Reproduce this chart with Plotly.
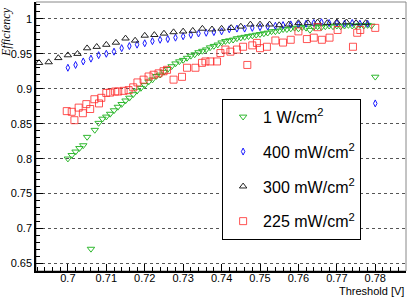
import plotly.graph_objects as go

# ---- data ----
green_x = [0.700, 0.701, 0.702, 0.703, 0.704, 0.705, 0.706, 0.707, 0.708, 0.709,
           0.710, 0.711, 0.712, 0.713, 0.714, 0.715, 0.716, 0.717, 0.718, 0.719,
           0.720, 0.721, 0.722, 0.723, 0.724, 0.725, 0.726, 0.727, 0.728, 0.729,
           0.730, 0.731, 0.732, 0.733, 0.734, 0.735, 0.736, 0.737, 0.738, 0.739,
           0.740, 0.741, 0.742, 0.743, 0.744, 0.745, 0.746, 0.747, 0.748, 0.749,
           0.750, 0.751, 0.752, 0.753, 0.754, 0.755, 0.756, 0.757, 0.758, 0.759,
           0.760, 0.761, 0.762, 0.763, 0.764, 0.765, 0.766, 0.767, 0.768, 0.769,
           0.770, 0.771, 0.772, 0.773, 0.774, 0.775, 0.776, 0.777, 0.778, 0.779,
           0.780]
green_y = [0.800, 0.805, 0.810, 0.815, 0.819, 0.831, 0.671, 0.841, 0.851, 0.857,
           0.860, 0.864, 0.869, 0.874, 0.878, 0.883, 0.887, 0.892, 0.897, 0.901,
           0.905, 0.910, 0.913, 0.918, 0.920, 0.924, 0.928, 0.932, 0.936, 0.939,
           0.941, 0.944, 0.947, 0.949, 0.952, 0.954, 0.956, 0.959, 0.961, 0.963,
           0.966, 0.968, 0.969, 0.970, 0.972, 0.973, 0.974, 0.975, 0.976, 0.977,
           0.978, 0.979, 0.980, 0.982, 0.982, 0.983, 0.985, 0.985, 0.986, 0.987,
           0.986, 0.988, 0.987, 0.984, 0.988, 0.989, 0.988, 0.989, 0.990, 0.989,
           0.990, 0.989, 0.990, 0.991, 0.990, 0.990, 0.991, 0.990, 0.991, 0.990,
           0.917]

blue_x = [0.700, 0.702, 0.704, 0.706, 0.708, 0.710, 0.712, 0.714, 0.716, 0.718,
          0.720, 0.722, 0.724, 0.726, 0.728, 0.730, 0.732, 0.734, 0.736, 0.738,
          0.740, 0.742, 0.744, 0.746, 0.748, 0.750, 0.752, 0.754, 0.756, 0.758,
          0.760, 0.762, 0.764, 0.766, 0.768, 0.770, 0.772, 0.774, 0.776, 0.778,
          0.780]
blue_y = [0.930, 0.934, 0.939, 0.943, 0.948, 0.950, 0.953, 0.958, 0.961, 0.963,
          0.965, 0.968, 0.970, 0.971, 0.973, 0.975, 0.977, 0.979, 0.980, 0.981,
          0.982, 0.985, 0.986, 0.986, 0.987, 0.988, 0.989, 0.990, 0.991, 0.992,
          0.992, 0.993, 0.994, 0.995, 0.994, 0.994, 0.993, 0.994, 0.993, 0.993,
          0.879]

black_x = [0.6925, 0.6950, 0.6975, 0.7000, 0.7025, 0.7050, 0.7075, 0.7100, 0.7125,
           0.7150, 0.7175, 0.7200, 0.7225, 0.7250, 0.7275, 0.7300, 0.7325, 0.7350,
           0.7375, 0.7400, 0.7425, 0.7450, 0.7475, 0.7500, 0.7525, 0.7550, 0.7575,
           0.7600, 0.7625, 0.7650, 0.7675, 0.7700, 0.7725, 0.7750, 0.7775]
black_y = [0.937, 0.938, 0.944, 0.948, 0.950, 0.958, 0.960, 0.963, 0.966,
           0.972, 0.969, 0.976, 0.977, 0.979, 0.981, 0.982, 0.983, 0.986,
           0.985, 0.986, 0.987, 0.989, 0.992, 0.992, 0.992, 0.991, 0.992,
           0.994, 0.994, 0.995, 0.994, 0.995, 0.995, 0.994, 0.994]

red_x = [0.6997, 0.7010, 0.7017, 0.7028, 0.7039, 0.7048, 0.7058, 0.7069, 0.7081,
         0.7087, 0.7100, 0.7110, 0.7123, 0.7131, 0.7145, 0.7158, 0.7170, 0.7181,
         0.7197, 0.7210, 0.7223, 0.7236, 0.7249, 0.7258, 0.7275, 0.7297, 0.7310,
         0.7332, 0.7349, 0.7358, 0.7371, 0.7388, 0.7397, 0.7410, 0.7423, 0.7440,
         0.7456, 0.7467, 0.7480, 0.7492, 0.7500, 0.7518, 0.7540, 0.7560, 0.7580,
         0.7600, 0.7622, 0.7640, 0.7650, 0.7661, 0.7681, 0.7702, 0.7742, 0.7753,
         0.7761, 0.7800]
red_y = [0.868, 0.867, 0.855, 0.873, 0.865, 0.878, 0.871, 0.885, 0.879,
         0.887, 0.894, 0.8945, 0.896, 0.896, 0.897, 0.898, 0.902, 0.909,
         0.913, 0.9175, 0.920, 0.922, 0.925, 0.927, 0.913, 0.917, 0.930,
         0.930, 0.937, 0.939, 0.939, 0.939, 0.951, 0.956, 0.953, 0.956,
         0.960, 0.934, 0.962, 0.9655, 0.958, 0.960, 0.969, 0.966, 0.970,
         0.982, 0.971, 0.973, 0.988, 0.970, 0.973, 0.984, 0.960, 0.980,
         0.984, 0.987]

labels = ["1 W/cm<sup>2</sup>", "400 mW/cm<sup>2</sup>",
          "300 mW/cm<sup>2</sup>", "225 mW/cm<sup>2</sup>"]

x_ticks = [0.70, 0.71, 0.72, 0.73, 0.74, 0.75, 0.76, 0.77, 0.78]
x_tick_text = ["0.7", "0.71", "0.72", "0.73", "0.74", "0.75", "0.76", "0.77", "0.78"]
y_ticks = [0.65, 0.70, 0.75, 0.80, 0.85, 0.90, 0.95, 1.00]
y_tick_text = ["0.65", "0.7", "0.75", "0.8", "0.85", "0.9", "0.95", "1"]

fig = go.Figure()
series = [
    (green_x, green_y, labels[0], "triangle-down-open", "#2eb82e", 6.5),
    (blue_x, blue_y, labels[1], "diamond-tall-open", "#1a1aff", 5),
    (black_x, black_y, labels[2], "triangle-up-open", "#222222", 6.5),
    (red_x, red_y, labels[3], "square-open", "rgba(255,40,40,0.8)", 7),
]
for i, (xs, ys, name, sym, col, sz) in enumerate(series):
    fig.add_trace(go.Scatter(
        x=xs, y=ys, mode="markers", name=name, legendgroup=f"g{i}",
        marker=dict(symbol=sym, color=col, size=sz, line=dict(width=1, color=col)),
    ))

axis_font = dict(family="Liberation Sans, Arial, sans-serif", size=11, color="black")

fig.update_xaxes(
    range=[0.6917, 0.788], tickvals=x_ticks, ticktext=x_tick_text,
    ticks="inside", ticklen=7, tickwidth=1, tickcolor="black",
    ticklabelstandoff=-4,
    minor=dict(dtick=0.002, tick0=0.7, ticks="inside", ticklen=4, tickcolor="black", showgrid=False),
    showline=True, linecolor="black", linewidth=1.5,
    showgrid=False, zeroline=False, tickfont=axis_font,
)
fig.update_yaxes(
    range=[0.6394, 1.024], tickvals=y_ticks, ticktext=y_tick_text,
    ticks="inside", ticklen=7, tickwidth=1, tickcolor="black",
    minor=dict(dtick=0.01, tick0=0.65, ticks="inside", ticklen=4, tickcolor="black", showgrid=False),
    showline=True, linecolor="black", linewidth=1.5,
    showgrid=True, gridcolor="#555555", griddash="dot", gridwidth=1,
    zeroline=False, tickfont=axis_font,
)

fig.add_shape(type="rect", xref="paper", yref="paper", x0=0, y0=0, x1=1, y1=1,
              line=dict(color="#888888", width=1), layer="below")

fig.add_annotation(text="<i>Efficiency</i>", xref="paper", yref="paper",
                   x=-0.081, y=0.989, xanchor="center", yanchor="top", textangle=-90,
                   showarrow=False,
                   font=dict(family="Liberation Serif, Times New Roman, serif", size=12, color="black"))
fig.add_annotation(text="Threshold [V]", xref="paper", yref="paper",
                   x=1.0, y=-0.0755, xanchor="right", yanchor="middle",
                   showarrow=False, font=axis_font)

fig.update_layout(
    width=407, height=297,
    margin=dict(l=36, r=1, t=2, b=26),
    paper_bgcolor="white", plot_bgcolor="white",
    showlegend=True,
    legend=dict(
        x=0.503, y=0.64, xanchor="left", yanchor="top",
        bgcolor="white", bordercolor="black", borderwidth=1,
        font=dict(family="Liberation Sans, Arial, sans-serif", size=16, color="black"),
        tracegroupgap=11, itemsizing="trace",
    ),
)

fig.write_html("out.html", config={"displayModeBar": False},
               post_script="document.body.style.margin='0';document.body.style.padding='0';")
